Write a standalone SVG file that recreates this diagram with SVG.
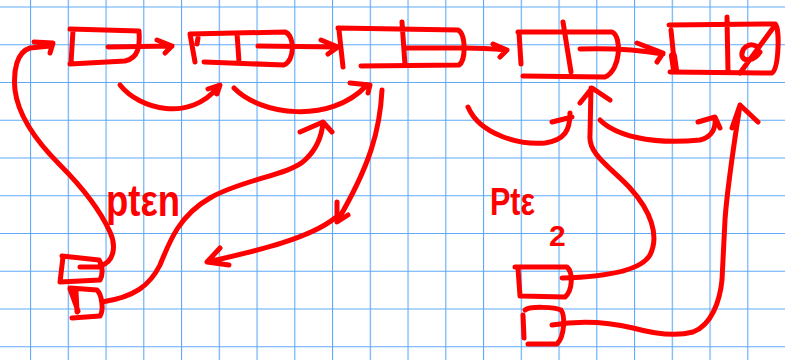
<svg xmlns="http://www.w3.org/2000/svg" width="785" height="360" viewBox="0 0 785 360">
  <defs>
    <!-- graph paper, 37.75px cells -->
    <pattern id="grid" patternUnits="userSpaceOnUse" x="30" y="6.5" width="37.75" height="37.75">
      <path d="M0,0 H37.75 M0,0 V37.75" fill="none" stroke="#5eaaf7" stroke-width="2.2"/>
    </pattern>
  </defs>
  <style>
    .ink { fill: none; stroke: #ff0000; stroke-width: 5; stroke-linecap: round; stroke-linejoin: round; }
    .label { fill: #ff0000; font-family: "Liberation Sans", Arial, sans-serif; font-weight: bold; }
  </style>

  <rect width="785" height="360" fill="#ffffff"/>
  <rect width="785" height="360" fill="url(#grid)"/>

  <!-- list nodes -->
  <g id="node1" class="ink">
    <path d="M70,29 L139,31 C140,45 139,58 125,61 L70,64 M73,30 L71,63"/>
  </g>
  <g id="node2" class="ink">
    <path d="M190,34 L285,32 C295,35 295,61 284,65 L204,62 M190,34 L195,62 M198,38 L197,44 M237,33 L239,62"/>
  </g>
  <g id="node3" class="ink">
    <path d="M338,28 L458,30 C466,34 466,61 459,65 L361,66 M339,30 L343,67 M402,22 L405,65 M407,48 L465,48"/>
  </g>
  <g id="node4" class="ink">
    <path d="M518,32 L612,32 C622,36 621,70 605,77 L523,76 M519,33 L521,64 M563,22 L571,72"/>
  </g>
  <g id="node5" class="ink">
    <path d="M669,25 L775,24 C780,27 779,68 772,73 L670,72 M671,30 L675,70 M727,17 L728,72"/>
    <path d="M673,56 L675,70" stroke-width="8"/>
    <path d="M756,46 C748,42 741,49 742,56 C744,62 754,61 760,52 M740,73 L773,28"/>
  </g>

  <!-- pointer boxes -->
  <g id="pten-box" class="ink">
    <path d="M62,256 L99,260 C103,266 103,275 100,280 L60,282 M63,257 L60,282 M80,267 L100,267"/>
    <path d="M70,288 L97,290 C102,295 104,310 100,316 L72,318 M70,289 L78,311 M76,291 L77,312"/>
  </g>
  <g id="pte2-box" class="ink">
    <path d="M515,267 L567,267 C573,272 573,290 565,297 L521,296 M518,268 L520,296"/>
    <path d="M525,310 C530,306 555,307 561,310 C565,315 565,336 557,344 L528,344 M523,315 L524,338"/>
  </g>

  <!-- labels -->
  <text class="label" x="106" y="216" font-size="44" textLength="74" lengthAdjust="spacingAndGlyphs">ptεn</text>
  <text class="label" x="490" y="215" font-size="38" textLength="45" lengthAdjust="spacingAndGlyphs">Ptε</text>
  <text class="label" x="549" y="246" font-size="30">2</text>

  <!-- pointers and sketch arrows -->
  <g id="connectors" class="ink">
    <!-- next links -->
    <path d="M108,47 L172,46 M157,40 L172,46 L165,53"/>
    <path d="M258,46 L338,47 M321,40 L338,47 L328,54"/>
    <path d="M465,48 C480,48 495,49 507,50 M493,44 L507,50 L500,57"/>
    <path d="M580,49 C610,48 640,50 663,54 M637,43 L663,53 L657,62"/>

    <!-- rewiring sketches -->
    <path d="M120,85 C140,110 190,122 218,87 M208,89 L220,85 L217,94"/>
    <path d="M234,88 C260,115 330,125 367,85 M350,83 L370,85 L368,93"/>
    <path d="M382,90 C380,130 370,165 338,220 M337,202 L337,222 L348,215"/>
    <path d="M335,218 C310,238 260,250 212,261 M220,248 L207,262 L229,265"/>
    <path d="M468,107 C480,135 520,145 545,143 C565,140 570,130 570,113 M552,122 L572,117"/>
    <path d="M600,120 C615,135 650,145 700,140 C712,137 716,128 715,118 M698,122 L715,117 L720,128"/>

    <!-- pointer variable links -->
    <path d="M100,266 C115,262 116,245 110,232 C100,210 80,185 60,165 C35,140 18,115 15,90 C13,70 17,52 30,48 L50,46 M34,42 L53,43 L50,53"/>
    <path d="M102,302 C135,297 150,285 160,265 C170,240 180,215 210,198 C240,180 290,175 305,160 C318,148 322,135 323,122 M300,132 L323,122 L332,132"/>
    <path d="M562,278 C600,277 640,272 650,255 C660,235 650,210 630,188 C612,168 588,155 590,135 L591,88 M580,103 L592,88 L610,100"/>
    <path d="M552,325 C575,321 600,320 633,328 C655,334 675,337 693,332 C712,325 720,300 722,280 L725,220 C727,190 733,150 740,105 M732,128 L740,105 L758,122"/>
  </g>
</svg>
